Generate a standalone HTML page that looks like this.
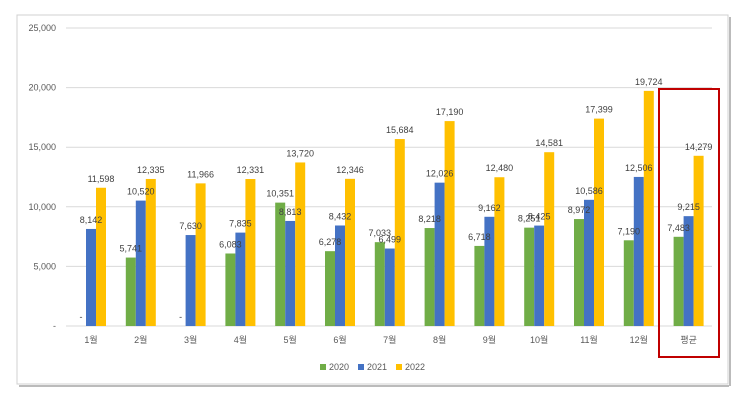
<!DOCTYPE html>
<html><head><meta charset="utf-8"><style>
body{margin:0;background:#fff;width:744px;height:405px;overflow:hidden;font-family:"Liberation Sans","Noto Sans CJK KR",sans-serif}
svg text{font-family:"Liberation Sans","Noto Sans CJK KR",sans-serif}
</style></head><body>
<svg id="c" width="744" height="405">
<rect x="17" y="15" width="711" height="369" fill="#fff" stroke="#d0d0d0"/>
<line x1="19" y1="386" x2="729" y2="386" stroke="#bbb" stroke-width="2"/>
<line x1="730" y1="17" x2="730" y2="386" stroke="#bbb" stroke-width="2"/>
<g id="grid"></g><g id="bars"></g><g id="labels"></g>
<rect x="659" y="89" width="60" height="268" fill="none" stroke="#c00000" stroke-width="2"/>
<g font-size="9" fill="#595959">
<rect x="320" y="364" width="6" height="6" fill="#70ad47"/><text x="329" y="370">2020</text>
<rect x="358" y="364" width="6" height="6" fill="#4472c4"/><text x="367" y="370">2021</text>
<rect x="396" y="364" width="6" height="6" fill="#ffc000"/><text x="405" y="370">2022</text>
</g>
</svg>
<script>
const categories=["1월","2월","3월","4월","5월","6월","7월","8월","9월","10월","11월","12월","평균"];
const s2020=[0,5741,0,6083,10351,6278,7033,8218,6718,8251,8972,7190,7483];
const s2021=[8142,10520,7630,7835,8813,8432,6499,12026,9162,8425,10586,12506,9215];
const s2022=[11598,12335,11966,12331,13720,12346,15684,17190,12480,14581,17399,19724,14279];
const yTicks=[0,5000,10000,15000,20000,25000];
const tickLabels=["-","5,000","10,000","15,000","20,000","25,000"];
const NS="http://www.w3.org/2000/svg";
const y=v=>326-v*298/25000;
const x=i=>91+i*49.8;
function mk(t,a,p){const e=document.createElementNS(NS,t);for(const k in a)e.setAttribute(k,a[k]);p.appendChild(e);return e;}
const grid=document.getElementById('grid'),bars=document.getElementById('bars'),labels=document.getElementById('labels');
yTicks.forEach((v,i)=>{
 const l=mk('line',{x1:66,x2:712,y1:y(v),y2:y(v),stroke:'#d9d9d9','stroke-width':1},grid);
 
 
 const t=mk('text',{x:56,y:y(v)+3,'text-anchor':'end','font-size':9,fill:'#595959'},grid);
 t.textContent=tickLabels[i];
 
 
});
const series=[[s2020,'#70ad47','2020',-1],[s2021,'#4472c4','2021',0],[s2022,'#ffc000','2022',1]];
const fmt=v=>v===0?'-':v.toLocaleString('en-US');
categories.forEach((c,i)=>{
 series.forEach(([d,col,nm,off])=>{
  const cx=x(i)+off*10;
  const r=mk('rect',{x:cx-5,y:y(d[i]),width:10,height:326-y(d[i]),fill:col},bars);
  
  
  const t=mk('text',{x:cx,y:y(d[i])-6,'text-anchor':'middle','font-size':9,fill:'#404040'},labels);
  t.textContent=fmt(d[i]);
  
  
 });
 const t=mk('text',{x:x(i),y:343,'text-anchor':'middle','font-size':9,fill:'#595959'},labels);
 t.textContent=c;
 
 
});
</script>
</body></html>
